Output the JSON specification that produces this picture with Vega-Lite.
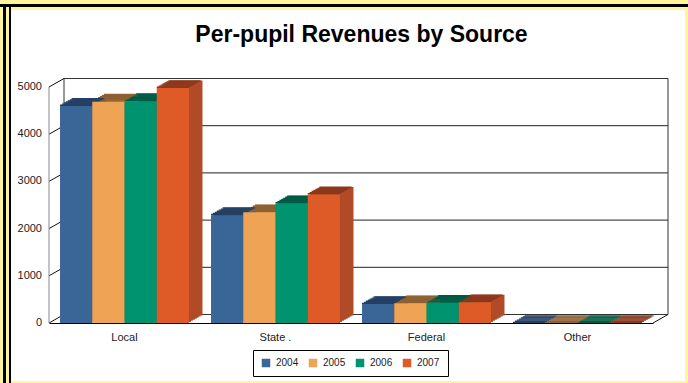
{
  "$schema": "https://vega.github.io/schema/vega-lite/v6.json",
  "width": 604,
  "height": 236,
  "autosize": {"type": "none"},
  "padding": {"left": 49, "top": 87, "right": 35, "bottom": 60},
  "background": "#fff59a",
  "title": {"text": "Per-pupil Revenues by Source", "font": "Liberation Sans", "fontSize": 23, "fontWeight": "bold", "color": "#000", "anchor": "middle", "frame": "group", "dx": 10.5, "offset": -61, "baseline": "alphabetic"},
  "config": {
    "view": {"stroke": null}
  },
  "datasets": {
    "rev": [
      {"source": "Local", "year": "2004", "value": 4600},
      {"source": "Local", "year": "2005", "value": 4690},
      {"source": "Local", "year": "2006", "value": 4700},
      {"source": "Local", "year": "2007", "value": 4980},
      {"source": "State .", "year": "2004", "value": 2285},
      {"source": "State .", "year": "2005", "value": 2345},
      {"source": "State .", "year": "2006", "value": 2535},
      {"source": "State .", "year": "2007", "value": 2725},
      {"source": "Federal", "year": "2004", "value": 400},
      {"source": "Federal", "year": "2005", "value": 420},
      {"source": "Federal", "year": "2006", "value": 430},
      {"source": "Federal", "year": "2007", "value": 440},
      {"source": "Other", "year": "2004", "value": 0},
      {"source": "Other", "year": "2005", "value": 0},
      {"source": "Other", "year": "2006", "value": 0},
      {"source": "Other", "year": "2007", "value": 0}
    ],
    "one": [{"k": 1}],
    "grid": [{"v": 1000}, {"v": 2000}, {"v": 3000}, {"v": 4000}],
    "ticks": [{"v": 0}, {"v": 1000}, {"v": 2000}, {"v": 3000}, {"v": 4000}, {"v": 5000}]
  },
  "resolve": {"scale": {"color": "independent", "x": "independent", "xOffset": "independent"}},
  "layer": [
    {"data": {"name": "one"}, "mark": {"type": "rect", "fill": "white", "xOffset": -38, "x2Offset": 32, "yOffset": 58, "y2Offset": -77},
     "encoding": {"x": {"datum": 0, "type": "quantitative", "scale": {"domain": [0, 1]}, "axis": null}, "x2": {"datum": 1}, "y": {"datum": 0, "type": "quantitative", "axis": null}, "y2": {"datum": 5000}}},
    {"data": {"name": "one"}, "mark": {"type": "rect", "fill": "black", "xOffset": -49, "x2Offset": 35, "yOffset": -80, "y2Offset": -83},
     "encoding": {"x": {"datum": 0, "type": "quantitative", "scale": {"domain": [0, 1]}, "axis": null}, "x2": {"datum": 1}, "y": {"datum": 5000, "type": "quantitative", "axis": null}, "y2": {"datum": 5000}}},
    {"data": {"name": "one"}, "mark": {"type": "rect", "fill": "black", "xOffset": -46, "x2Offset": -43, "yOffset": 60, "y2Offset": -83},
     "encoding": {"x": {"datum": 0, "type": "quantitative", "scale": {"domain": [0, 1]}, "axis": null}, "x2": {"datum": 0}, "y": {"datum": 0, "type": "quantitative", "axis": null}, "y2": {"datum": 5000}}},
    {"data": {"name": "one"}, "mark": {"type": "rect", "fill": "black", "xOffset": -40, "x2Offset": -38, "yOffset": 60, "y2Offset": -80},
     "encoding": {"x": {"datum": 0, "type": "quantitative", "scale": {"domain": [0, 1]}, "axis": null}, "x2": {"datum": 0}, "y": {"datum": 0, "type": "quantitative", "axis": null}, "y2": {"datum": 5000}}},
    {"data": {"name": "one"}, "mark": {"type": "rect", "fill": "transparent", "stroke": "#333", "strokeWidth": 1, "xOffset": 15, "x2Offset": 15, "yOffset": -8.5, "y2Offset": -8.5},
     "encoding": {"x": {"datum": 0, "type": "quantitative", "scale": {"domain": [0, 1]}, "axis": null}, "x2": {"datum": 1}, "y": {"datum": 0, "type": "quantitative", "axis": null}, "y2": {"datum": 5000}}},
    {"data": {"name": "grid"}, "mark": {"type": "rule", "color": "#222", "strokeWidth": 1, "xOffset": 15, "x2Offset": 15, "yOffset": -8.5, "y2Offset": -8.5},
     "encoding": {"x": {"datum": 0, "type": "quantitative", "scale": {"domain": [0, 1]}, "axis": null}, "x2": {"datum": 1}, "y": {"field": "v", "type": "quantitative", "axis": null}, "y2": {"field": "v"}}},
    {"data": {"name": "ticks"}, "mark": {"type": "rule", "color": "#111", "strokeWidth": 1, "xOffset": 0, "x2Offset": 15, "yOffset": 0, "y2Offset": -8.5},
     "encoding": {"x": {"datum": 0, "type": "quantitative", "scale": {"domain": [0, 1]}, "axis": null}, "x2": {"datum": 0}, "y": {"field": "v", "type": "quantitative", "axis": null}, "y2": {"field": "v"}}},
    {"data": {"name": "one"}, "mark": {"type": "rule", "color": "#111", "strokeWidth": 1, "xOffset": 0, "x2Offset": 15, "yOffset": 0, "y2Offset": -8.5},
     "encoding": {"x": {"datum": 1, "type": "quantitative", "scale": {"domain": [0, 1]}, "axis": null}, "x2": {"datum": 1}, "y": {"datum": 0, "type": "quantitative", "axis": null}, "y2": {"datum": 0}}},
    {"data": {"name": "one"}, "mark": {"type": "rule", "color": "#888", "strokeWidth": 1},
     "encoding": {"x": {"datum": 0, "type": "quantitative", "scale": {"domain": [0, 1]}, "axis": null}, "y": {"datum": 0, "type": "quantitative", "axis": null}, "y2": {"datum": 5000}}},
    {"data": {"name": "ticks"}, "mark": {"type": "text", "align": "right", "baseline": "middle", "dx": -7, "font": "Liberation Sans", "fontSize": 11, "color": "#222"},
     "encoding": {"x": {"datum": 0, "type": "quantitative", "scale": {"domain": [0, 1]}, "axis": null}, "y": {"field": "v", "type": "quantitative", "axis": null}, "text": {"field": "v", "type": "quantitative", "format": "d"}}},

    {"data": {"name": "rev"}, "mark": {"type": "bar", "yOffset": -1.07, "y2Offset": -1.07},
     "encoding": {"x": {"field": "source", "type": "nominal", "sort": ["Local", "State .", "Federal", "Other"], "scale": {"paddingInner": 0.146, "paddingOuter": 0.073, "range": [1.93, 605.93]}, "axis": null}, "xOffset": {"field": "year", "type": "nominal", "sort": ["2004", "2005", "2006", "2007"], "scale": {"paddingInner": 0, "paddingOuter": 0}}, "y": {"field": "value", "type": "quantitative", "axis": null}, "color": {"field": "year", "type": "nominal", "scale": {"domain": ["2004", "2005", "2006", "2007"], "range": ["#2c4e76", "#c4823f", "#00755a", "#b04a27"]}, "legend": null}}},
    {"data": {"name": "rev"}, "mark": {"type": "bar", "yOffset": -2.14, "y2Offset": -2.14},
     "encoding": {"x": {"field": "source", "type": "nominal", "sort": ["Local", "State .", "Federal", "Other"], "scale": {"paddingInner": 0.146, "paddingOuter": 0.073, "range": [3.86, 607.86]}, "axis": null}, "xOffset": {"field": "year", "type": "nominal", "sort": ["2004", "2005", "2006", "2007"], "scale": {"paddingInner": 0, "paddingOuter": 0}}, "y": {"field": "value", "type": "quantitative", "axis": null}, "color": {"field": "year", "type": "nominal", "scale": {"domain": ["2004", "2005", "2006", "2007"], "range": ["#2c4e76", "#c4823f", "#00755a", "#b04a27"]}, "legend": null}}},
    {"data": {"name": "rev"}, "mark": {"type": "bar", "yOffset": -3.21, "y2Offset": -3.21},
     "encoding": {"x": {"field": "source", "type": "nominal", "sort": ["Local", "State .", "Federal", "Other"], "scale": {"paddingInner": 0.146, "paddingOuter": 0.073, "range": [5.79, 609.79]}, "axis": null}, "xOffset": {"field": "year", "type": "nominal", "sort": ["2004", "2005", "2006", "2007"], "scale": {"paddingInner": 0, "paddingOuter": 0}}, "y": {"field": "value", "type": "quantitative", "axis": null}, "color": {"field": "year", "type": "nominal", "scale": {"domain": ["2004", "2005", "2006", "2007"], "range": ["#2c4e76", "#c4823f", "#00755a", "#b04a27"]}, "legend": null}}},
    {"data": {"name": "rev"}, "mark": {"type": "bar", "yOffset": -4.29, "y2Offset": -4.29},
     "encoding": {"x": {"field": "source", "type": "nominal", "sort": ["Local", "State .", "Federal", "Other"], "scale": {"paddingInner": 0.146, "paddingOuter": 0.073, "range": [7.71, 611.71]}, "axis": null}, "xOffset": {"field": "year", "type": "nominal", "sort": ["2004", "2005", "2006", "2007"], "scale": {"paddingInner": 0, "paddingOuter": 0}}, "y": {"field": "value", "type": "quantitative", "axis": null}, "color": {"field": "year", "type": "nominal", "scale": {"domain": ["2004", "2005", "2006", "2007"], "range": ["#2c4e76", "#c4823f", "#00755a", "#b04a27"]}, "legend": null}}},
    {"data": {"name": "rev"}, "mark": {"type": "bar", "yOffset": -5.36, "y2Offset": -5.36},
     "encoding": {"x": {"field": "source", "type": "nominal", "sort": ["Local", "State .", "Federal", "Other"], "scale": {"paddingInner": 0.146, "paddingOuter": 0.073, "range": [9.64, 613.64]}, "axis": null}, "xOffset": {"field": "year", "type": "nominal", "sort": ["2004", "2005", "2006", "2007"], "scale": {"paddingInner": 0, "paddingOuter": 0}}, "y": {"field": "value", "type": "quantitative", "axis": null}, "color": {"field": "year", "type": "nominal", "scale": {"domain": ["2004", "2005", "2006", "2007"], "range": ["#2c4e76", "#c4823f", "#00755a", "#b04a27"]}, "legend": null}}},
    {"data": {"name": "rev"}, "mark": {"type": "bar", "yOffset": -6.43, "y2Offset": -6.43},
     "encoding": {"x": {"field": "source", "type": "nominal", "sort": ["Local", "State .", "Federal", "Other"], "scale": {"paddingInner": 0.146, "paddingOuter": 0.073, "range": [11.57, 615.57]}, "axis": null}, "xOffset": {"field": "year", "type": "nominal", "sort": ["2004", "2005", "2006", "2007"], "scale": {"paddingInner": 0, "paddingOuter": 0}}, "y": {"field": "value", "type": "quantitative", "axis": null}, "color": {"field": "year", "type": "nominal", "scale": {"domain": ["2004", "2005", "2006", "2007"], "range": ["#2c4e76", "#c4823f", "#00755a", "#b04a27"]}, "legend": null}}},
    {"data": {"name": "rev"}, "mark": {"type": "bar", "yOffset": -7.5, "y2Offset": -7.5},
     "encoding": {"x": {"field": "source", "type": "nominal", "sort": ["Local", "State .", "Federal", "Other"], "scale": {"paddingInner": 0.146, "paddingOuter": 0.073, "range": [13.5, 617.5]}, "axis": null}, "xOffset": {"field": "year", "type": "nominal", "sort": ["2004", "2005", "2006", "2007"], "scale": {"paddingInner": 0, "paddingOuter": 0}}, "y": {"field": "value", "type": "quantitative", "axis": null}, "color": {"field": "year", "type": "nominal", "scale": {"domain": ["2004", "2005", "2006", "2007"], "range": ["#2c4e76", "#c4823f", "#00755a", "#b04a27"]}, "legend": null}}},

    {"data": {"name": "rev"}, "mark": {"type": "bar", "yOffset": -1.37, "y2Offset": 0},
     "encoding": {"x": {"field": "source", "type": "nominal", "sort": ["Local", "State .", "Federal", "Other"], "scale": {"paddingInner": 0.146, "paddingOuter": 0.073, "range": [0, 604]}, "axis": null}, "xOffset": {"field": "year", "type": "nominal", "sort": ["2004", "2005", "2006", "2007"], "scale": {"paddingInner": 0, "paddingOuter": 0}}, "y": {"field": "value", "type": "quantitative", "axis": null}, "y2": {"field": "value"}, "color": {"field": "year", "type": "nominal", "scale": {"domain": ["2004", "2005", "2006", "2007"], "range": ["#243f63", "#8d6131", "#005b45", "#8a371b"]}, "legend": null}}},
    {"data": {"name": "rev"}, "mark": {"type": "bar", "yOffset": -2.44, "y2Offset": -1.07},
     "encoding": {"x": {"field": "source", "type": "nominal", "sort": ["Local", "State .", "Federal", "Other"], "scale": {"paddingInner": 0.146, "paddingOuter": 0.073, "range": [1.93, 605.93]}, "axis": null}, "xOffset": {"field": "year", "type": "nominal", "sort": ["2004", "2005", "2006", "2007"], "scale": {"paddingInner": 0, "paddingOuter": 0}}, "y": {"field": "value", "type": "quantitative", "axis": null}, "y2": {"field": "value"}, "color": {"field": "year", "type": "nominal", "scale": {"domain": ["2004", "2005", "2006", "2007"], "range": ["#243f63", "#8d6131", "#005b45", "#8a371b"]}, "legend": null}}},
    {"data": {"name": "rev"}, "mark": {"type": "bar", "yOffset": -3.51, "y2Offset": -2.14},
     "encoding": {"x": {"field": "source", "type": "nominal", "sort": ["Local", "State .", "Federal", "Other"], "scale": {"paddingInner": 0.146, "paddingOuter": 0.073, "range": [3.86, 607.86]}, "axis": null}, "xOffset": {"field": "year", "type": "nominal", "sort": ["2004", "2005", "2006", "2007"], "scale": {"paddingInner": 0, "paddingOuter": 0}}, "y": {"field": "value", "type": "quantitative", "axis": null}, "y2": {"field": "value"}, "color": {"field": "year", "type": "nominal", "scale": {"domain": ["2004", "2005", "2006", "2007"], "range": ["#243f63", "#8d6131", "#005b45", "#8a371b"]}, "legend": null}}},
    {"data": {"name": "rev"}, "mark": {"type": "bar", "yOffset": -4.59, "y2Offset": -3.21},
     "encoding": {"x": {"field": "source", "type": "nominal", "sort": ["Local", "State .", "Federal", "Other"], "scale": {"paddingInner": 0.146, "paddingOuter": 0.073, "range": [5.79, 609.79]}, "axis": null}, "xOffset": {"field": "year", "type": "nominal", "sort": ["2004", "2005", "2006", "2007"], "scale": {"paddingInner": 0, "paddingOuter": 0}}, "y": {"field": "value", "type": "quantitative", "axis": null}, "y2": {"field": "value"}, "color": {"field": "year", "type": "nominal", "scale": {"domain": ["2004", "2005", "2006", "2007"], "range": ["#243f63", "#8d6131", "#005b45", "#8a371b"]}, "legend": null}}},
    {"data": {"name": "rev"}, "mark": {"type": "bar", "yOffset": -5.66, "y2Offset": -4.29},
     "encoding": {"x": {"field": "source", "type": "nominal", "sort": ["Local", "State .", "Federal", "Other"], "scale": {"paddingInner": 0.146, "paddingOuter": 0.073, "range": [7.71, 611.71]}, "axis": null}, "xOffset": {"field": "year", "type": "nominal", "sort": ["2004", "2005", "2006", "2007"], "scale": {"paddingInner": 0, "paddingOuter": 0}}, "y": {"field": "value", "type": "quantitative", "axis": null}, "y2": {"field": "value"}, "color": {"field": "year", "type": "nominal", "scale": {"domain": ["2004", "2005", "2006", "2007"], "range": ["#243f63", "#8d6131", "#005b45", "#8a371b"]}, "legend": null}}},
    {"data": {"name": "rev"}, "mark": {"type": "bar", "yOffset": -6.73, "y2Offset": -5.36},
     "encoding": {"x": {"field": "source", "type": "nominal", "sort": ["Local", "State .", "Federal", "Other"], "scale": {"paddingInner": 0.146, "paddingOuter": 0.073, "range": [9.64, 613.64]}, "axis": null}, "xOffset": {"field": "year", "type": "nominal", "sort": ["2004", "2005", "2006", "2007"], "scale": {"paddingInner": 0, "paddingOuter": 0}}, "y": {"field": "value", "type": "quantitative", "axis": null}, "y2": {"field": "value"}, "color": {"field": "year", "type": "nominal", "scale": {"domain": ["2004", "2005", "2006", "2007"], "range": ["#243f63", "#8d6131", "#005b45", "#8a371b"]}, "legend": null}}},
    {"data": {"name": "rev"}, "mark": {"type": "bar", "yOffset": -7.8, "y2Offset": -6.43},
     "encoding": {"x": {"field": "source", "type": "nominal", "sort": ["Local", "State .", "Federal", "Other"], "scale": {"paddingInner": 0.146, "paddingOuter": 0.073, "range": [11.57, 615.57]}, "axis": null}, "xOffset": {"field": "year", "type": "nominal", "sort": ["2004", "2005", "2006", "2007"], "scale": {"paddingInner": 0, "paddingOuter": 0}}, "y": {"field": "value", "type": "quantitative", "axis": null}, "y2": {"field": "value"}, "color": {"field": "year", "type": "nominal", "scale": {"domain": ["2004", "2005", "2006", "2007"], "range": ["#243f63", "#8d6131", "#005b45", "#8a371b"]}, "legend": null}}},

    {"data": {"name": "rev"}, "mark": {"type": "bar"},
     "encoding": {
       "x": {"field": "source", "type": "nominal", "sort": ["Local", "State .", "Federal", "Other"], "scale": {"paddingInner": 0.146, "paddingOuter": 0.073, "range": [0, 604]},
             "axis": {"zindex": 1, "title": null, "labelAngle": 0, "ticks": false, "domainColor": "#000", "domainWidth": 1, "labelFont": "Liberation Sans", "labelFontSize": 11, "labelColor": "#222", "labelPadding": 8}},
       "xOffset": {"field": "year", "type": "nominal", "sort": ["2004", "2005", "2006", "2007"], "scale": {"paddingInner": 0, "paddingOuter": 0}},
       "y": {"field": "value", "type": "quantitative", "axis": null, "scale": {"domain": [0, 5000], "nice": false}},
       "color": {"field": "year", "type": "nominal", "scale": {"domain": ["2004", "2005", "2006", "2007"], "range": ["#3a6597", "#efa355", "#009370", "#de5a26"]},
                 "legend": {"title": null, "orient": "none", "legendX": 204, "legendY": 263, "direction": "horizontal", "strokeColor": "#000", "fillColor": "white", "padding": 8, "columnPadding": 9, "labelOffset": 5, "symbolType": "square", "symbolSize": 72, "symbolStrokeWidth": 0, "labelFont": "Liberation Sans", "labelFontSize": 10, "labelColor": "#222"}}
     }}
  ]
}
